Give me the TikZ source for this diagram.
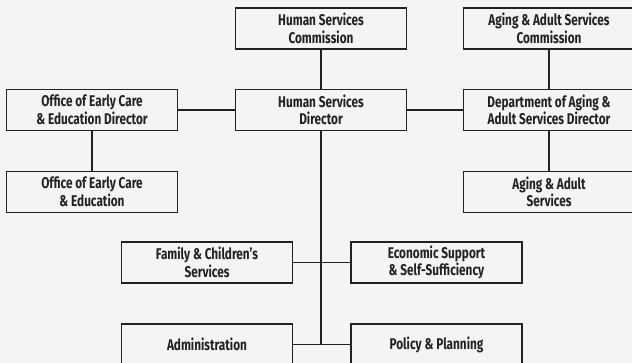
\documentclass[tikz,border=0pt]{standalone}
\usepackage{fontspec}
\setmainfont{Fira Sans}[FakeStretch=0.76]
\definecolor{bgc}{HTML}{F3F4F5}
\definecolor{ink}{HTML}{222222}
\begin{document}
\begin{tikzpicture}[x=1pt,y=-1pt,
  box/.style={draw=ink,line width=1.1pt,fill=bgc,minimum width=171pt,minimum height=41pt,inner sep=0pt,
    align=center,font=\fontsize{15.5}{17.5}\selectfont\bfseries,text=ink},
  link/.style={draw=ink,line width=1.1pt}]
\useasboundingbox (0,0) rectangle (632,363);
\clip (0,0) rectangle (632,363);
\fill[bgc] (0,0) rectangle (632,363);
\node[box] (hsc) at (321,28.5) {Human Services\\Commission};
\node[box] (aasc) at (549,28.5) {Aging \& Adult Services\\Commission};
\node[box] (oecd) at (92,110) {Office of Early Care\\\& Education Director};
\node[box] (hsd) at (321,110) {Human Services\\Director};
\node[box] (dad) at (549,110) {Department of Aging \&\\Adult Services Director};
\node[box] (oece) at (92,192) {Office of Early Care\\\& Education};
\node[box] (aas) at (549,192) {Aging \& Adult\\Services};
\node[box] (fcs) at (207,262.5) {Family \& Children’s\\Services};
\node[box] (es) at (436.5,262.5) {Economic Support\\\& Self-Sufficiency};
\node[box] (adm) at (207,344.5) {Administration};
\node[box] (pp) at (436.5,344.5) {Policy \& Planning};
\coordinate (trunk) at (321,344.5);
\draw[link] (hsc) -- (hsd);
\draw[link] (oecd) -- (hsd);
\draw[link] (hsd) -- (dad);
\draw[link] (aasc) -- (dad);
\draw[link] (dad) -- (aas);
\draw[link] (oecd) -- (oece);
\draw[link] (hsd.south) -- (trunk);
\draw[link] (fcs) -- (es);
\draw[link] (adm) -- (pp);
\end{tikzpicture}
\end{document}
